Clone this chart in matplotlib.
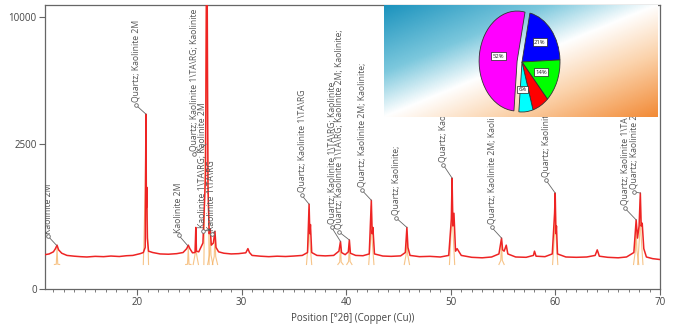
import numpy as np
import matplotlib
matplotlib.use("Agg")
import matplotlib.pyplot as plt
from matplotlib.colors import LinearSegmentedColormap

plt.rcParams['font.family'] = ['Open Sans', 'DejaVu Sans']

# ---------------- data ----------------
# measured pattern (2theta, counts) read from the picture
pattern_x = [11.2, 11.6, 12.0, 12.2, 12.35, 12.5, 12.8, 13.3, 14.0, 14.6, 15.2, 16.0, 16.8, 17.5,
             18.3, 19.0, 19.6, 20.3, 20.6, 20.78, 20.85, 20.89, 20.93, 20.98, 21.1, 21.5, 22.2,
             23.0, 23.8, 24.4, 24.75, 24.9, 25.05, 25.3, 25.55, 25.62, 25.68, 25.9, 26.3, 26.55,
             26.64, 26.7, 26.78, 26.9, 27.0, 27.1, 27.3, 27.45, 27.55, 27.8, 28.3, 29.0, 29.7,
             30.4, 30.6, 30.75, 31.0, 31.8, 32.6, 33.4, 34.2, 35.0, 35.8, 36.3, 36.45, 36.52,
             36.58, 36.7, 37.2, 38.0, 38.8, 39.3, 39.45, 39.55, 39.9, 40.2, 40.3, 40.4, 40.9,
             41.6, 42.2, 42.4, 42.48, 42.55, 42.7, 43.5, 44.3, 45.2, 45.65, 45.8, 45.9, 46.1,
             47.0, 48.0, 49.0, 49.8, 50.05, 50.12, 50.2, 50.3, 50.45, 50.6, 51.0, 52.0, 53.0,
             53.9, 54.6, 54.85, 54.95, 55.1, 55.3, 55.45, 56.2, 57.2, 57.9, 58.0, 58.15, 59.0,
             59.7, 59.92, 59.98, 60.05, 60.1, 60.2, 61.0, 62.0, 63.0, 63.8, 64.0, 64.2, 65.0,
             66.0, 66.8, 67.5, 67.72, 67.85, 68.0, 68.12, 68.2, 68.3, 68.45, 68.7, 69.3, 70.0]
pattern_y = [105, 110, 125, 150, 180, 140, 115, 100, 95, 92, 90, 94, 92, 96,
             93, 98, 100, 112, 120, 160, 3790, 700, 1150, 250, 130, 120, 110,
             108, 112, 120, 150, 180, 150, 118, 120, 380, 130, 125, 200, 1500,
             14000, 14000, 1200, 300, 360, 180, 200, 330, 160, 125, 115, 110, 112,
             118, 150, 120, 100, 95, 92, 95, 93, 96, 100, 120, 770, 300,
             420, 120, 100, 97, 100, 130, 215, 120, 105, 125, 230, 115, 100,
             98, 110, 850, 300, 380, 110, 96, 94, 97, 120, 380, 160, 100,
             92, 94, 90, 100, 500, 1390, 400, 600, 130, 150, 100, 88, 85,
             90, 110, 250, 140, 130, 180, 110, 90, 88, 100, 130, 95, 92,
             110, 600, 1010, 300, 400, 110, 90, 88, 90, 100, 140, 95, 88,
             85, 90, 120, 490, 250, 400, 1010, 400, 440, 150, 90, 80, 75]

# reference peak profiles (light orange)
ref_pos = [12.35, 20.85, 24.9, 25.62, 26.64, 27.0, 27.45, 36.45, 39.45, 40.3, 42.4, 45.8,
           50.12, 54.85, 59.98, 67.72, 68.12]
ref_height = [170, 3600, 170, 360, 14000, 340, 310, 730, 205, 215, 800, 360,
              1300, 235, 950, 460, 950]

# peak labels (visible part of each label)
label_text = ["Kaolinite 2M",
              "Quartz; Kaolinite 2M",
              "Kaolinite 2M",
              "Quartz; Kaolinite 1\\TA\\RG; Kaolinite",
              "Kaolinite 1\\TA\\RG; Kaolinite 2M",
              "Kaolinite 1\\TA\\RG",
              "Quartz; Kaolinite 1\\TA\\RG",
              "Quartz; Kaolinite 1\\TA\\RG; Kaolinite",
              "Quartz; Kaolinite 1\\TA\\RG; Kaolinite 2M; Kaolinite;",
              "Quartz; Kaolinite 2M; Kaolinite;",
              "Quartz; Kaolinite;",
              "Quartz; Kaol",
              "Quartz; Kaolinite 2M; Kaoli",
              "Quartz; Kaolinite",
              "Quartz; Kaolinite 1\\TA",
              "Quartz; Kaolinite 2M"]
label_x = [11.5, 19.9, 24.0, 25.45, 26.3, 27.15, 35.75, 38.6, 39.35, 41.5, 44.8,
           49.3, 53.9, 59.1, 66.65, 67.5]
label_base = [270, 4230, 280, 2150, 330, 300, 960, 383, 318, 1078, 517,
              1770, 383, 1333, 691, 1040]
label_peak_x = [12.3, 20.85, 24.85, 26.6, 27.0, 27.45, 36.45, 39.45, 40.3, 42.4, 45.8,
                50.12, 54.85, 59.98, 67.72, 68.12]
label_peak_y = [179, 3790, 175, 2500, 360, 330, 770, 215, 230, 850, 380,
                1390, 250, 1010, 490, 1010]

# pie inset
pie_values = [21, 14, 7, 6, 52]
pie_labels = ["21%", "14%", "", "6%", "52%"]
pie_colors = ["#0000ff", "#00ff00", "#ff0000", "#00ffff", "#ff00ff"]

y_ticks = [0, 2500, 10000]
x_ticks = [20, 30, 40, 50, 60, 70]

# ---------------- figure ----------------
W, H = 675, 331
fig = plt.figure(figsize=(W / 100, H / 100), dpi=100)
fig.patch.set_facecolor("white")

def fx(px):
    return px / W

def fy(py):
    return 1 - py / H

ax = fig.add_axes([fx(45), fy(289), fx(660) - fx(45), fy(5) - fy(289)])

P = 0.454
def fwd(v):
    v = np.asarray(v, dtype=float)
    return np.sign(v) * np.abs(v) ** P
def inv(v):
    v = np.asarray(v, dtype=float)
    return np.sign(v) * np.abs(v) ** (1 / P)
ax.set_yscale('function', functions=(fwd, inv))

# reference profiles
for xp, hp in zip(ref_pos, ref_height):
    ax.plot([xp - 0.25, xp - 0.07, xp, xp + 0.07, xp + 0.25], [50, hp * 0.3, hp * 0.92, hp * 0.3, 50],
            color="#f4b060", lw=0.8, alpha=0.75, zorder=2)

ax.plot(pattern_x, pattern_y, color="#ee2424", lw=1.1, zorder=3)

# labels
for t, lx, lb, px_, py_ in zip(label_text, label_x, label_base, label_peak_x, label_peak_y):
    ax.plot([lx, px_], [lb, py_], color="#666666", lw=0.6, zorder=4, clip_on=True)
    ax.plot([lx], [lb], marker='o', ms=2.6, mfc='white', mec="#666666", mew=0.6, zorder=5)
    ax.annotate(t, xy=(lx, lb), xytext=(0, 2), textcoords='offset points', rotation=90,
                ha='center', va='bottom', fontsize=6.2, color="#555555", clip_on=True,
                annotation_clip=True, zorder=5)

ax.set_xlim(11.2, 70)
ax.set_ylim(0, 11025)
ax.set_yticks(y_ticks)
ax.set_yticklabels([str(v) for v in y_ticks])
ax.set_xticks(x_ticks)
ax.set_xticks(np.arange(12, 71, 1), minor=True)
ax.yaxis.set_minor_locator(matplotlib.ticker.NullLocator())
ax.tick_params(axis='both', which='major', length=4, width=0.8, color="#666666",
               labelsize=7, labelcolor="#444444", pad=2)
ax.tick_params(axis='x', which='minor', length=2.5, width=0.6, color="#666666")
for s in ax.spines.values():
    s.set_color("#666666")
    s.set_linewidth(0.9)
ax.set_xlabel("Position [°2θ] (Copper (Cu))", fontsize=7, color="#444444", labelpad=3)

# gradient inset
gax = fig.add_axes([fx(384), fy(117), fx(658) - fx(384), fy(5) - fy(117)])
cmap = LinearSegmentedColormap.from_list("bg", [(0.0, "#1a92bd"), (0.3, "#7cc8dd"),
                                                (0.5, "#ffffff"), (0.72, "#fbd2aa"),
                                                (1.0, "#f28a36")])
gx, gy = np.meshgrid(np.linspace(0, 1, 300), np.linspace(0, 1, 120))
gax.imshow((gx + gy) / 2, cmap=cmap, aspect='auto', extent=(0, 1, 1, 0), vmin=0, vmax=1)
gax.set_xticks([])
gax.set_yticks([])
for s in gax.spines.values():
    s.set_visible(False)

# pie (elliptical)
cx, cy, rx, ry = 522, 62, 38, 50
pax = fig.add_axes([fx(cx - 1.2 * rx), fy(cy + 1.2 * ry), 2.4 * rx / W, 2.4 * ry / H])
pax.set_facecolor("none")
wedges, texts = pax.pie(
    pie_values, colors=pie_colors, startangle=78, counterclock=False,
    explode=[0, 0, 0, 0, 0.13], labels=None,
    wedgeprops=dict(edgecolor="#333333", linewidth=0.6))
pax.set_aspect('auto')
pax.set_xlim(-1.2, 1.2)
pax.set_ylim(-1.2, 1.2)
pax.axis('off')
label_pos = [(0.47, 0.4), (0.5, -0.2), (0.0, 0.0), (0.02, -0.55), (-0.62, 0.12)]
for lbl, (lx, ly) in zip(pie_labels, label_pos):
    if lbl:
        pax.text(lx, ly, lbl, fontsize=4.2, ha='center', va='center', color="#222222",
                 bbox=dict(boxstyle='square,pad=0.25', fc='white', ec='#222222', lw=0.5))

fig.savefig("out.png", dpi=100)
